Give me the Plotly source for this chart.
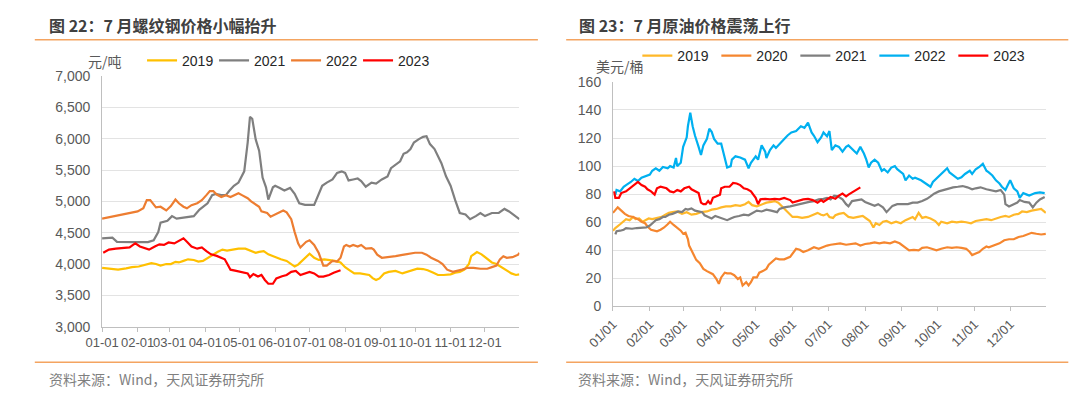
import pandas as pd
import plotly.graph_objects as go

# ---------------- data (day-of-year, value) ----------------
REBAR_2019 = [(1,3940),(10,3925),(15,3910),(22,3930),(27,3950),(33,3960),(39,3990),(44,4015),(48,4000),(52,3975),(57,4000),(61,4000),(65,4035),(68,4025),(72,4050),(76,4075),(81,4065),(85,4040),(89,4050),(94,4110),(98,4160),(102,4195),(106,4230),(110,4215),(115,4230),(120,4245),(126,4245),(130,4215),(135,4180),(138,4195),(142,4205),(146,4155),(152,4110),(157,4075),(162,4050),(166,4000),(169,3960),(172,3990),(176,4060),(180,4140),(182,4165),(186,4100),(190,4065),(195,4075),(200,4065),(204,4050),(209,4025),(213,3950),(217,3900),(221,3850),(226,3850),(230,3840),(234,3825),(237,3775),(240,3745),(243,3770),(247,3850),(251,3875),(257,3890),(263,3850),(267,3875),(271,3900),(276,3925),(281,3920),(285,3900),(290,3860),(294,3825),(299,3825),(305,3835),(309,3860),(313,3875),(317,3910),(321,4000),(323,4125),(328,4190),(332,4155),(337,4075),(341,4025),(345,4000),(349,3950),(353,3900),(358,3850),(362,3825),(365,3835)]
REBAR_2021 = [(1,4410),(3,4410),(10,4420),(14,4355),(21,4350),(30,4350),(41,4350),(46,4380),(50,4510),(52,4660),(58,4690),(62,4765),(66,4725),(72,4740),(81,4765),(86,4870),(93,4970),(97,5100),(100,5120),(105,5100),(109,5100),(112,5170),(116,5250),(120,5300),(125,5480),(128,5940),(130,6350),(132,6320),(135,5990),(138,5810),(141,5380),(144,5225),(146,5030),(150,5225),(152,5250),(156,5215),(160,5175),(165,5215),(169,5120),(173,4970),(178,4945),(186,4945),(190,5120),(193,5250),(197,5300),(202,5350),(206,5455),(210,5480),(213,5455),(216,5335),(220,5350),(224,5365),(227,5325),(231,5235),(236,5300),(240,5285),(245,5350),(250,5400),(253,5530),(257,5580),(261,5640),(264,5760),(267,5785),(270,5835),(273,5940),(277,5990),(281,6030),(284,6040),(287,5915),(291,5835),(294,5710),(297,5610),(301,5400),(305,5250),(309,5020),(313,4815),(318,4790),(322,4715),(327,4765),(331,4815),(335,4765),(341,4815),(347,4815),(352,4880),(356,4840),(361,4765),(365,4715)]
REBAR_2022 = [(1,4725),(10,4755),(16,4785),(24,4805),(32,4840),(37,4890),(40,5020),(43,5020),(45,4970),(48,4905),(52,4915),(57,4855),(61,4925),(65,5030),(68,4970),(72,4915),(75,4890),(79,4940),(84,4970),(88,5020),(92,5100),(95,5165),(98,5165),(101,5110),(105,5070),(109,5100),(113,5070),(118,5120),(120,5130),(123,5100),(128,5050),(131,5000),(135,4945),(138,4915),(140,4840),(145,4815),(148,4755),(152,4790),(156,4825),(159,4855),(162,4825),(166,4715),(169,4510),(172,4330),(174,4265),(179,4355),(182,4380),(186,4305),(190,4175),(194,3975),(197,3975),(202,4050),(206,4040),(209,4100),(212,4280),(214,4305),(217,4280),(220,4305),(224,4280),(227,4305),(231,4245),(236,4255),(238,4230),(241,4150),(245,4100),(251,4110),(257,4125),(263,4145),(268,4165),(274,4180),(280,4180),(284,4150),(288,4100),(294,4050),(298,4000),(302,3910),(307,3875),(311,3890),(315,3910),(320,3940),(325,3940),(331,3925),(337,3925),(341,3950),(345,3975),(348,4075),(351,4125),(354,4100),(359,4110),(364,4150),(365,4180)]
REBAR_2023 = [(2,4180),(7,4230),(13,4245),(20,4255),(25,4265),(28,4305),(30,4330),(34,4280),(38,4255),(42,4230),(47,4280),(51,4315),(55,4305),(59,4345),(64,4330),(68,4365),(72,4410),(75,4355),(79,4280),(84,4245),(88,4265),(92,4205),(96,4155),(101,4130),(105,4100),(108,4075),(111,3975),(113,3910),(118,3890),(123,3875),(128,3850),(130,3790),(133,3840),(137,3800),(140,3825),(143,3745),(146,3685),(150,3685),(153,3770),(158,3805),(162,3825),(166,3875),(170,3890),(174,3825),(178,3850),(182,3875),(186,3850),(190,3800),(194,3800),(199,3825),(203,3860),(207,3890),(209,3900)]

OIL_2019 = [(1,54),(3,55.9),(7,58.6),(10,60.4),(12,62.2),(15,61.5),(18,63.8),(20,62.2),(23,62.7),(26,60.4),(29,61.5),(31,62.7),(34,62.2),(38,63.1),(42,63.8),(45,65.4),(48,66.7),(51,67.2),(55,67.7),(59,66),(63,67.2),(67,65.4),(71,66),(75,67.2),(80,67.7),(84,69),(88,69.5),(92,70.6),(96,71.3),(100,71.3),(104,72.2),(108,71.7),(112,72.9),(115,74.5),(118,72.2),(122,71.3),(126,72.9),(130,74),(134,74.5),(137,75.1),(140,74),(143,71.3),(147,68.3),(150,65.4),(152,63.8),(156,63.8),(160,63.1),(165,63.8),(169,65.4),(173,66.7),(176,65.4),(178,64.9),(181,66),(183,63.8),(186,63.1),(188,65),(191,66),(195,66.7),(199,63.8),(203,63.1),(207,63.8),(211,64.5),(214,62.7),(217,60.9),(220,56.3),(222,59.3),(225,58.1),(228,60.4),(231,60.9),(235,59.3),(239,60.4),(243,59.3),(247,61.5),(250,62.7),(253,63.8),(255,62.2),(258,66.7),(261,63.1),(264,63.8),(268,62.7),(272,60.9),(275,58.1),(277,60.4),(282,59.3),(286,60.4),(290,60),(294,60.4),(298,60),(302,59.3),(306,60.9),(310,61.5),(315,62.2),(319,61.5),(323,62.7),(327,63.8),(331,64.5),(334,63.8),(338,65.4),(342,66),(345,67.7),(349,67.2),(353,68.3),(357,69),(361,69.5),(365,66.7)]
OIL_2020 = [(1,66.7),(3,69),(5,70.6),(8,68.3),(11,66),(14,64.5),(18,63.8),(22,62.2),(25,60.4),(28,59.3),(30,57),(33,54.7),(36,54),(38,53.6),(41,54.7),(44,56.3),(47,58.6),(49,60.4),(52,58.1),(55,55.9),(58,54),(60,51.8),(62,52.5),(64,48),(65,43.4),(67,40),(69,36.6),(71,33.2),(74,30.9),(77,26.8),(80,25.2),(82,24.1),(85,23),(88,19.6),(90,16.2),(92,20.7),(95,24.1),(97,23.6),(100,23.6),(103,22.3),(106,19.6),(108,20.7),(110,15),(113,17.3),(115,15),(117,17.3),(119,20.7),(122,20.7),(124,24.1),(127,25.2),(130,26.8),(132,29.8),(135,32),(138,34.3),(141,33.6),(145,33.6),(150,35.4),(152,37.7),(155,41.1),(158,40.4),(161,38.8),(165,40),(167,41.1),(170,42.2),(174,41.1),(178,42.7),(181,43.4),(184,44),(188,44.5),(192,45),(197,44),(201,44.5),(205,45),(209,43.4),(213,44.5),(217,45),(221,45.6),(225,45),(229,45.6),(234,45),(238,46.3),(242,45),(246,42.2),(250,40),(254,40.4),(258,40),(261,41.8),(265,42.2),(269,41.1),(273,40),(277,41.1),(282,42.2),(286,41.8),(290,42.2),(294,41.8),(298,41.1),(301,38.8),(303,36.6),(306,37.7),(309,38.8),(312,41.1),(315,42.7),(317,42.2),(321,43.4),(326,45),(330,47.2),(334,47.9),(338,47.9),(342,49.5),(346,50.2),(350,51.3),(353,52.5),(357,51.8),(361,51.3),(365,51.8)]
OIL_2021 = [(3,51.3),(4,53.6),(7,54),(10,54.7),(12,55.9),(17,55.4),(21,55.9),(25,55.9),(29,56.3),(32,57.7),(34,59.3),(37,61.5),(40,62.2),(43,63.8),(45,63.8),(48,65.4),(51,66),(54,66.7),(56,67.7),(59,67.2),(62,69.5),(64,69),(67,69.9),(70,68.3),(73,67.7),(76,67.2),(78,65),(81,63.8),(84,62.7),(87,64.5),(89,63.8),(92,63.1),(95,62.2),(97,61.5),(100,62.7),(103,63.8),(107,64.5),(111,65.4),(115,65),(119,66.7),(122,68.3),(126,67.7),(130,69),(134,68.3),(139,67.2),(141,69.5),(145,70.6),(150,71.3),(154,72.2),(158,72.9),(162,73.5),(166,74.5),(170,75.1),(174,76.3),(178,76.7),(181,77.4),(184,76.3),(187,79),(190,78.5),(194,76.3),(197,72.9),(199,71.3),(202,75.1),(206,75.8),(210,76.3),(213,74.5),(217,72.9),(221,71.7),(224,72.9),(228,70.6),(231,67.2),(234,69.5),(236,71.7),(240,72.9),(245,72.9),(249,72.9),(253,74),(257,74),(261,75.1),(265,76.7),(268,78.5),(271,80.4),(275,82),(279,83),(283,84.2),(287,84.9),(291,85.3),(295,85.8),(299,84.9),(303,83.5),(306,84.2),(310,84.9),(315,83.5),(319,83),(323,82),(327,83),(330,79.7),(331,72.9),(334,71.3),(338,72.9),(341,74),(343,75.8),(347,74.5),(351,74),(354,70.6),(357,74),(360,76.3),(364,78)]
OIL_2022 = [(3,79.7),(4,83),(7,82),(10,85.3),(12,86.5),(16,88.7),(19,91),(22,89.4),(25,91.7),(28,92.6),(32,94),(34,96.7),(37,98.5),(40,96.7),(43,99.4),(47,98.5),(49,100),(52,99),(54,105.8),(55,100),(58,102.4),(60,113.7),(63,120.5),(64,128.4),(66,138),(68,128.4),(70,121.6),(73,113.7),(75,108),(77,114.8),(80,119.4),(82,126.6),(84,124.4),(86,119.4),(89,116),(92,116),(95,105.8),(97,99),(100,100),(101,104.6),(104,107),(108,106.2),(112,104.6),(115,98.5),(117,102.4),(121,107),(123,104.6),(126,114.8),(129,110.3),(130,105.8),(133,111.4),(136,114.8),(138,113),(141,116),(145,119.4),(148,122),(151,124),(155,125),(159,128.4),(162,127.3),(165,131),(168,124),(170,121.6),(173,117),(176,120.5),(178,124),(181,121.2),(183,125),(185,111.4),(188,114.8),(191,113.7),(194,110.3),(197,113.7),(199,114.8),(203,111.4),(206,109),(209,113.7),(212,109),(214,104.6),(216,99),(218,102.4),(221,104.6),(224,102.4),(227,96.7),(229,97.8),(232,95.5),(235,99),(238,100),(240,97.8),(245,94.4),(247,89.9),(250,93.3),(253,91),(255,91.7),(260,89.9),(264,87.6),(268,85.3),(270,88.7),(273,91),(276,93.3),(279,95.5),(282,98.5),(284,95.5),(287,93.3),(291,91),(294,92),(297,94.4),(301,96.7),(303,94.4),(306,97.8),(309,99.4),(312,101.7),(315,96.7),(317,95.5),(320,93.3),(323,89.9),(326,87.6),(328,85.3),(331,83),(333,86.5),(335,89.9),(338,84.2),(341,82),(343,77.4),(346,80.8),(349,79.7),(351,79),(356,80.8),(360,81.3),(364,80.8)]
OIL_2023 = [(2,82),(3,77.4),(6,77.4),(8,80.8),(12,82),(15,84.2),(19,86.5),(22,88.7),(25,86.5),(28,85.3),(30,83.5),(33,82),(36,79.7),(38,84.2),(41,85.3),(44,84.9),(46,84.2),(49,82),(52,81.3),(55,83),(58,82),(61,84.2),(65,85.3),(67,83.5),(70,82),(73,80.8),(75,74),(77,72.9),(79,72.9),(81,75.1),(83,72.9),(85,77.4),(88,78.5),(91,79.7),(92,84.2),(95,85.3),(99,85.3),(102,88),(105,87.6),(108,86.5),(111,84.2),(114,83.5),(117,82),(119,79.7),(121,77.4),(123,72.9),(125,76.3),(129,76.7),(133,76.3),(137,76.7),(141,76.3),(145,77.4),(150,75.8),(152,74),(156,75.1),(161,76.3),(165,76.7),(169,75.8),(173,74),(176,75.8),(178,74.5),(181,76.3),(184,78),(188,76.7),(191,79),(194,80.4),(197,78.5),(199,79.7),(202,81.3),(205,82.6),(207,84.2),(209,84.9)]

MONTH_STARTS = ["2021-%02d-01" % m for m in range(1, 13)]
LEFT_TICKTEXT = ["%02d-01" % m for m in range(1, 13)]
RIGHT_TICKTEXT = ["%02d/01" % m for m in range(1, 13)]

LEFT_TITLE = "图 22：7 月螺纹钢价格小幅抬升"
RIGHT_TITLE = "图 23：7 月原油价格震荡上行"
LEFT_UNIT = "元/吨"
RIGHT_UNIT = "美元/桶"
SOURCE = "资料来源：Wind，天风证券研究所"

# ---------------- figure ----------------
W, H = 1080, 398
BASE = pd.Timestamp("2021-01-01")
CJK = "Noto Sans CJK SC"
LAT = "Liberation Sans, Arial, sans-serif"


def to_xy(pairs):
    xs = [BASE + pd.Timedelta(days=d - 1) for d, _ in pairs]
    ys = [v for _, v in pairs]
    return xs, ys


def px(x):
    return x / W


def py(y):
    return 1 - y / H


fig = go.Figure()

left_series = [("2019", REBAR_2019, "#FFC000"), ("2021", REBAR_2021, "#7F7F7F"),
               ("2022", REBAR_2022, "#ED7D31"), ("2023", REBAR_2023, "#FF0000")]
right_series = [("2019", OIL_2019, "#FFB829"), ("2020", OIL_2020, "#F5862F"),
                ("2021", OIL_2021, "#7F7F7F"), ("2022", OIL_2022, "#00B0F0"),
                ("2023", OIL_2023, "#FF0000")]

for name, data, color in left_series:
    xs, ys = to_xy(data)
    fig.add_trace(go.Scatter(x=xs, y=ys, name=name, mode="lines",
                             line=dict(color=color, width=2.2),
                             xaxis="x", yaxis="y", legend="legend"))
for name, data, color in right_series:
    xs, ys = to_xy(data)
    fig.add_trace(go.Scatter(x=xs, y=ys, name=name, mode="lines",
                             line=dict(color=color, width=2.2),
                             xaxis="x2", yaxis="y2", legend="legend2"))

tickfont = dict(family=LAT, size=14, color="#595959")
xfont = dict(family=LAT, size=13, color="#595959")

common_x = dict(type="date", range=["2021-01-01", "2021-12-31"], tickvals=MONTH_STARTS,
                showline=True, linecolor="#BFBFBF", linewidth=1, ticks="outside",
                ticklen=4, tickcolor="#BFBFBF", showgrid=False, zeroline=False,
                tickfont=xfont, fixedrange=True)
common_y = dict(showline=True, linecolor="#BFBFBF", linewidth=1, ticks="",
                showgrid=True, gridcolor="#E3E3E3", gridwidth=1, zeroline=False,
                tickfont=tickfont, ticklabelstandoff=8, fixedrange=True)

fig.update_layout(
    width=W, height=H, autosize=False,
    margin=dict(l=0, r=0, t=0, b=0),
    paper_bgcolor="white", plot_bgcolor="white",
    xaxis=dict(common_x, domain=[px(77), px(505)], anchor="y", ticktext=LEFT_TICKTEXT,
               tickangle=0),
    yaxis=dict(common_y, domain=[py(332), py(71)], anchor="x", range=[3000, 7000],
               dtick=500, tickformat=","),
    xaxis2=dict(common_x, domain=[px(601), px(1045)], anchor="y2", ticktext=RIGHT_TICKTEXT,
                tickangle=-45),
    yaxis2=dict(common_y, domain=[py(311), py(77)], anchor="x2", range=[0, 160],
                dtick=20),
    legend=dict(orientation="h", x=px(118), y=py(55), xanchor="left", yanchor="middle",
                font=dict(family=LAT, size=14, color="#262626"), bgcolor="rgba(0,0,0,0)",
                entrywidth=27, entrywidthmode="pixels", itemclick=False),
    legend2=dict(orientation="h", x=px(626), y=py(50), xanchor="left", yanchor="middle",
                 font=dict(family=LAT, size=14, color="#262626"), bgcolor="rgba(0,0,0,0)",
                 entrywidth=34, entrywidthmode="pixels", itemclick=False),
    showlegend=True,
)

annotations = [
    dict(text="<b>%s</b>" % LEFT_TITLE, x=px(20), y=py(18), font=dict(family=CJK, size=16, color="#404040")),
    dict(text="<b>%s</b>" % RIGHT_TITLE, x=px(564), y=py(18), font=dict(family=CJK, size=16, color="#404040")),
    dict(text=LEFT_UNIT, x=px(61), y=py(55), font=dict(family=CJK, size=14, color="#595959")),
    dict(text=RIGHT_UNIT, x=px(582), y=py(60), font=dict(family=CJK, size=14, color="#595959")),
    dict(text=SOURCE, x=px(20), y=py(387), font=dict(family=CJK, size=14, color="#7F7F7F")),
    dict(text=SOURCE, x=px(563), y=py(387), font=dict(family=CJK, size=14, color="#7F7F7F")),
]
for a in annotations:
    a.update(xref="paper", yref="paper", xanchor="left", yanchor="middle", showarrow=False)
fig.update_layout(annotations=annotations)

rule = dict(type="line", xref="paper", yref="paper", line=dict(color="#F4A460", width=1.5))
fig.update_layout(shapes=[
    dict(rule, x0=px(8), x1=px(524), y0=py(33), y1=py(33)),
    dict(rule, x0=px(553), x1=px(1068), y0=py(33), y1=py(33)),
    dict(rule, x0=px(8), x1=px(524), y0=py(369), y1=py(369)),
    dict(rule, x0=px(553), x1=px(1068), y0=py(369), y1=py(369)),
])

fig.write_html("out.html", config={"displayModeBar": False},
               post_script="document.body.style.margin='0';document.body.style.overflow='hidden';")
